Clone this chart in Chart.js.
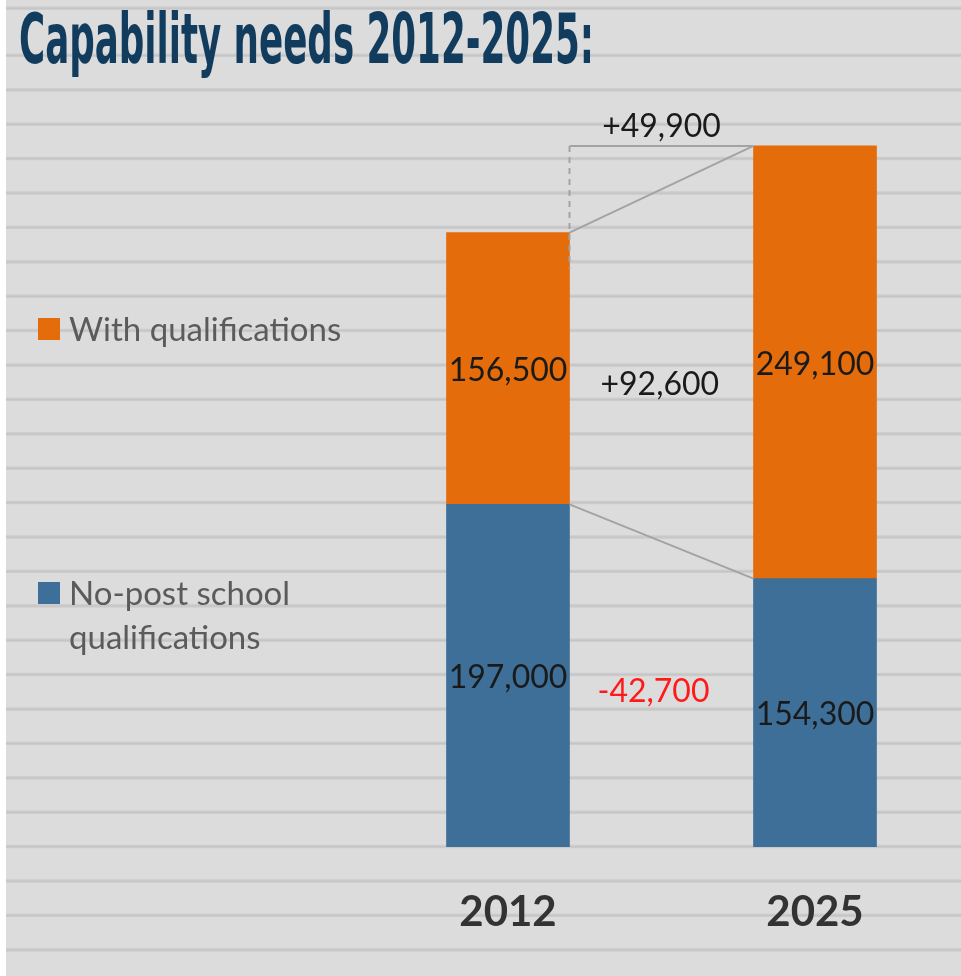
<!DOCTYPE html>
<html>
<head>
<meta charset="utf-8">
<script src="https://cdn.jsdelivr.net/npm/chart.js@4.4.0/dist/chart.umd.min.js"></script>
<style>
  html, body { margin: 0; padding: 0; overflow: hidden; }
  body {
    width: 961px; height: 976px; position: relative;
    background: repeating-linear-gradient(to bottom,
      #dcdcdc 0px, #dcdcdc 30px, #cfcfcf 31px, #c5c5c5 32.5px, #cfcfcf 34px, #dcdcdc 34.4px);
    background-position: 0 23px;
  }
  #edge { position: absolute; left: 0; top: 0; width: 6px; height: 976px; background: #fff; }
  #title {
    position: absolute; left: 19px; top: 4px; margin: 0;
    font-family: "Liberation Sans Narrow", "DejaVu Sans Condensed", "Liberation Sans", sans-serif;
    font-weight: bold; font-size: 70px; line-height: 1; color: #123c5e;
    white-space: nowrap; transform-origin: 0 0;
  }
  #chart { position: absolute; left: 0; top: 0; }
</style>
</head>
<body>
<div id="edge"></div>
<div id="title">Capability needs 2012-2025:</div>
<canvas id="chart" width="961" height="976"></canvas>
<script>
const years = ['2012', '2025'];
const noPostSchool = [197000, 154300];
const withQualifications = [156500, 249100];
const seriesNames = ['No-post school qualifications', 'With qualifications'];
const seriesColors = ['#3d6f98', '#e46c0a'];

// squeeze title into the condensed width of the original
const titleEl = document.getElementById('title');
titleEl.style.transform = `scaleX(${575 / titleEl.getBoundingClientRect().width})`;

const fmt = v => Math.abs(v).toLocaleString('en-US');
const signed = v => (v >= 0 ? '+' : '-') + fmt(v);

const annotations = {
  id: 'annotations',
  afterDatasetsDraw(chart) {
    const ctx = chart.ctx;
    const blue = chart.getDatasetMeta(0).data;
    const orange = chart.getDatasetMeta(1).data;

    // connector lines
    ctx.save();
    ctx.strokeStyle = '#a3a3a3';
    ctx.lineWidth = 2;
    const x1 = orange[0].x + orange[0].width / 2;
    const x2 = orange[1].x - orange[1].width / 2;
    ctx.beginPath();
    ctx.moveTo(x1, orange[0].y); ctx.lineTo(x2, orange[1].y);
    ctx.moveTo(x1, orange[1].y); ctx.lineTo(x2, orange[1].y);
    ctx.moveTo(x1, blue[0].y); ctx.lineTo(x2, blue[1].y);
    ctx.stroke();
    ctx.setLineDash([6, 5]);
    ctx.beginPath();
    ctx.moveTo(x1, orange[1].y); ctx.lineTo(x1, orange[0].y + 36);
    ctx.stroke();
    ctx.restore();

    // value labels inside segments
    ctx.save();
    ctx.font = '32px Lato';
    ctx.fillStyle = '#1a1a1a';
    ctx.textAlign = 'center';
    ctx.textBaseline = 'middle';
    [blue, orange].forEach((els, d) => {
      const vals = d === 0 ? noPostSchool : withQualifications;
      els.forEach((el, i) => {
        ctx.fillText(fmt(vals[i]), el.x, (el.y + el.base) / 2 + 2);
      });
    });

    // change labels
    const totals = years.map((_, i) => noPostSchool[i] + withQualifications[i]);
    ctx.fillStyle = '#1a1a1a';
    ctx.fillText(signed(totals[1] - totals[0]), (x1 + x2) / 2, orange[1].y - 19);
    ctx.textAlign = 'left';
    const oMid = ((orange[0].y + orange[0].base) / 2 + (orange[1].y + orange[1].base) / 2) / 2;
    const bMid = ((blue[0].y + blue[0].base) / 2 + (blue[1].y + blue[1].base) / 2) / 2;
    ctx.fillText(signed(withQualifications[1] - withQualifications[0]), x1 + 31, oMid + 19);
    ctx.fillStyle = '#ff1a1a';
    ctx.fillText(signed(noPostSchool[1] - noPostSchool[0]), x1 + 28, bMid - 2);
    ctx.restore();

    // legend on the left
    ctx.save();
    ctx.font = '33px Lato';
    ctx.textBaseline = 'middle';
    ctx.textAlign = 'left';
    const items = [
      { color: seriesColors[1], y: 329, lines: ['With qualifications'] },
      { color: seriesColors[0], y: 593, lines: ['No-post school', 'qualifications'] }
    ];
    items.forEach(it => {
      ctx.fillStyle = it.color;
      ctx.fillRect(38, it.y - 11, 22, 22);
      ctx.fillStyle = '#5b5b5b';
      it.lines.forEach((ln, k) => ctx.fillText(ln, 69, it.y + k * 44 + 1));
    });
    ctx.restore();
  }
};

new Chart(document.getElementById('chart'), {
  type: 'bar',
  data: {
    labels: years,
    datasets: [
      { label: seriesNames[0], data: noPostSchool, backgroundColor: seriesColors[0], barThickness: 123, clip: false },
      { label: seriesNames[1], data: withQualifications, backgroundColor: seriesColors[1], barThickness: 123, clip: false }
    ]
  },
  options: {
    responsive: false,
    animation: false,
    devicePixelRatio: 1,
    layout: { padding: { left: 508, right: 146, top: 65, bottom: 5 } },
    plugins: { legend: { display: false }, tooltip: { enabled: false } },
    scales: {
      x: {
        stacked: true,
        offset: false,
        grid: { display: false },
        border: { display: false },
        ticks: { color: '#333333', font: { family: 'Lato', size: 42, weight: 'bold' }, padding: 33 }
      },
      y: { stacked: true, display: false, min: 0, max: 450000 }
    }
  },
  plugins: [annotations]
});
</script>
</body>
</html>
